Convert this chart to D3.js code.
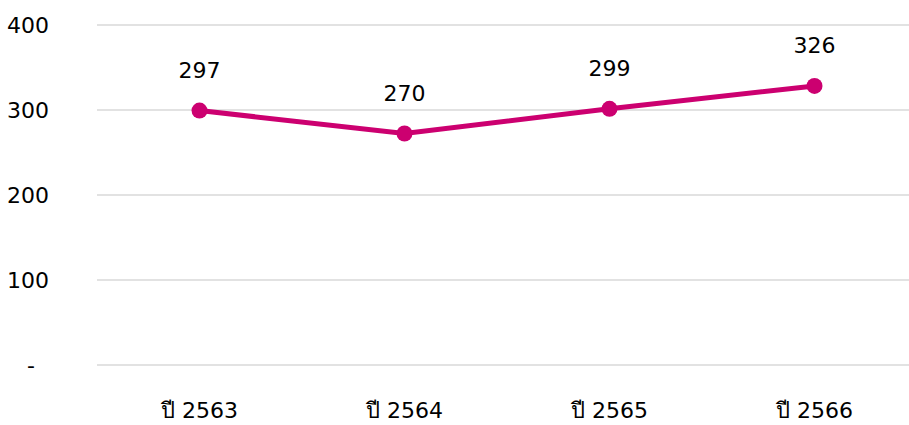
<!DOCTYPE html>
<html>
<head>
<meta charset="utf-8">
<script src="https://cdn.jsdelivr.net/npm/d3@7"></script>
<style>
  body { margin: 0; background: #fff; }
  svg text { font-family: 'DejaVu Sans', 'Noto Sans', sans-serif; }
</style>
</head>
<body>
<div id="chart"></div>
<script>
const years = ['ปี 2563', 'ปี 2564', 'ปี 2565', 'ปี 2566'];
const counts = [297, 270, 299, 326];
const yTicks = [0, 100, 200, 300, 400];

const W = 909;
const H = 425;
const margin = { top: 25, right: -8, bottom: 60, left: 97 };
const width = W - margin.left - margin.right;
const height = H - margin.top - margin.bottom;
const pink = '#cc0070';
const fs = '22px';

const svg = d3.select('#chart').append('svg')
  .attr('width', W)
  .attr('height', H);

const g = svg.append('g')
  .attr('transform', `translate(${margin.left},${margin.top})`);

const x = d3.scaleBand()
  .domain(years)
  .range([0, width]);

const y = d3.scaleLinear()
  .domain([0, 400])
  .range([height, 0]);

// gridlines
g.append('g')
  .selectAll('line')
  .data(yTicks)
  .enter().append('line')
  .attr('x1', 0)
  .attr('x2', W - margin.left)
  .attr('y1', (d) => y(d))
  .attr('y2', (d) => y(d))
  .attr('stroke', '#d9d9d9')
  .attr('stroke-width', 1.5);

// y axis labels
const yAxis = g.append('g')
  .attr('transform', 'translate(-45,0)')
  .call(d3.axisLeft(y).tickValues(yTicks).tickSize(0)
    .tickFormat((d) => (d === 0 ? '-' : d)));
yAxis.select('.domain').remove();
yAxis.selectAll('text')
  .attr('font-size', fs)
  .attr('fill', '#000')
  .attr('dy', '0.35em')
  .attr('dx', (d) => (d === 0 ? '-14px' : '0'));

// x axis labels
const xAxis = g.append('g')
  .attr('transform', `translate(0,${height + 34})`)
  .call(d3.axisBottom(x).tickSize(0));
xAxis.select('.domain').remove();
xAxis.selectAll('text')
  .attr('font-size', fs)
  .attr('fill', '#000');

const cx = (i) => x(years[i]) + x.bandwidth() / 2;

const line = d3.line()
  .x((d, i) => cx(i))
  .y((d) => y(d) - 2);

g.append('path')
  .datum(counts)
  .attr('d', line)
  .attr('fill', 'none')
  .attr('stroke', pink)
  .attr('stroke-width', 5);

g.selectAll('.dot')
  .data(counts)
  .enter().append('circle')
  .attr('class', 'dot')
  .attr('cx', (d, i) => cx(i))
  .attr('cy', (d) => y(d) - 2)
  .attr('r', 8)
  .attr('fill', pink);

g.selectAll('.lbl')
  .data(counts)
  .enter().append('text')
  .attr('class', 'lbl')
  .attr('x', (d, i) => cx(i))
  .attr('y', (d) => y(d) - 35)
  .attr('text-anchor', 'middle')
  .attr('font-size', fs)
  .attr('fill', '#000')
  .text((d) => d);
</script>
</body>
</html>
